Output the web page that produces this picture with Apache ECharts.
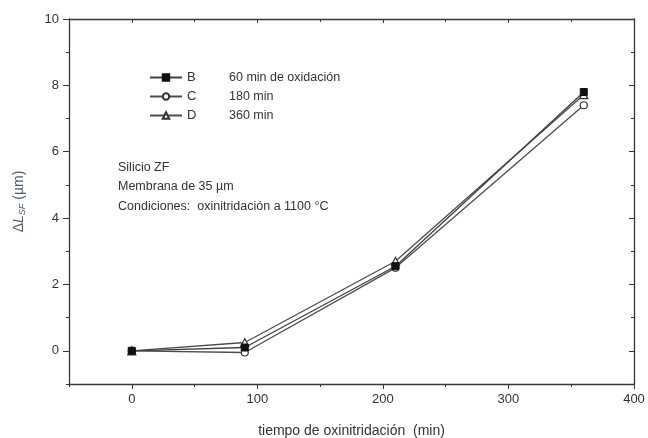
<!DOCTYPE html>
<html>
<head>
<meta charset="utf-8">
<script src="https://cdn.jsdelivr.net/npm/echarts@6/dist/echarts.min.js"></script>
<style>
  html, body { margin: 0; padding: 0; background: #fff; }
  #chart { width: 648px; height: 438px; }
</style>
</head>
<body>
<div id="chart"></div>
<script>
// tiempo de oxinitridación (min)
const tiempo = [0, 90, 210, 360];

// ΔL_SF (µm) per oxidation time
const serieB = [0.0, 0.1, 2.55, 7.8];
const serieC = [0.0, -0.05, 2.5, 7.4];
const serieD = [0.0, 0.25, 2.7, 7.72];

const seriesNames = ["B", "C", "D"];
const seriesDesc = {
    B: "60 min de oxidación",
    C: "180 min",
    D: "360 min"
};

const xMajor = [0, 100, 200, 300, 400];
const yMajor = [0, 2, 4, 6, 8, 10];

const notes = [
    "Silicio ZF",
    "Membrana de 35 µm",
    "Condiciones:  oxinitridación a 1100 °C"
];

const axisColor = "#2f3d2f";
const lineColor = "#4a4f4a";
const textColor = "#333";
const font = "Liberation Sans, Arial, sans-serif";

const chart = echarts.init(document.getElementById("chart"));

const pairs = (ys) => tiempo.map((t, i) => [t, ys[i]]);

const baseX = {
    type: "value",
    min: -50,
    max: 400,
    interval: 50,
    splitLine: { show: false },
    axisLine: { onZero: false, lineStyle: { color: axisColor, width: 1.3 } }
};
const baseY = {
    type: "value",
    min: -1,
    max: 10,
    interval: 1,
    splitLine: { show: false },
    axisLine: { onZero: false, lineStyle: { color: axisColor, width: 1.3 } }
};
const hiddenLine = { show: false, onZero: false };

chart.setOption({
    backgroundColor: "#fff",
    animation: false,
    textStyle: { fontFamily: font },
    grid: { left: 69, right: 14, top: 19, bottom: 54, outerBoundsMode: "none" },

    legend: {
        orient: "vertical",
        left: 144,
        top: 66,
        itemWidth: 32,
        itemHeight: 8,
        itemGap: 6,
        data: seriesNames,
        formatter: (name) => `{a|${name}}{b|${seriesDesc[name]}}`,
        textStyle: {
            color: textColor,
            fontFamily: font,
            rich: {
                a: { width: 42, fontSize: 13, color: textColor, fontFamily: font },
                b: { fontSize: 12.5, color: textColor, fontFamily: font }
            }
        }
    },

    graphic: notes.map((t, i) => ({
        type: "text",
        left: 118,
        top: 161 + i * 19.5,
        style: { text: t, fill: textColor, fontSize: 12.5, fontFamily: font }
    })),

    xAxis: [
        {
            ...baseX,
            position: "bottom",
            name: "tiempo de oxinitridación  (min)",
            nameLocation: "middle",
            nameGap: 40,
            nameTextStyle: { color: textColor, fontSize: 14, fontFamily: font },
            axisTick: { show: true, length: 5, customValues: xMajor, lineStyle: { color: axisColor } },
            axisLabel: { customValues: xMajor, color: textColor, fontSize: 13, margin: 9, fontFamily: font }
        },
        {
            ...baseX,
            position: "bottom",
            axisLine: hiddenLine,
            axisTick: { show: true, length: 3, lineStyle: { color: axisColor } },
            axisLabel: { show: false }
        },
        {
            ...baseX,
            position: "top",
            axisTick: { show: true, inside: true, length: 4, customValues: xMajor, lineStyle: { color: axisColor } },
            axisLabel: { show: false }
        },
        {
            ...baseX,
            position: "top",
            axisLine: hiddenLine,
            axisTick: { show: true, inside: true, length: 3, lineStyle: { color: axisColor } },
            axisLabel: { show: false }
        }
    ],

    yAxis: [
        {
            ...baseY,
            position: "left",
            name: "{n|Δ}{i|L}{s|SF}{n| (µm)}",
            nameLocation: "middle",
            nameGap: 42,
            nameRotate: 90,
            nameTextStyle: {
                color: "#4d5a6e",
                fontFamily: font,
                rich: {
                    n: { fontSize: 14, color: "#4d5a6e", fontFamily: font },
                    i: { fontSize: 14, fontStyle: "italic", color: "#4d5a6e", fontFamily: font },
                    s: { fontSize: 9, fontStyle: "italic", color: "#4d5a6e", fontFamily: font, padding: [6, 0, 0, 0] }
                }
            },
            axisTick: { show: true, length: 6, customValues: yMajor, lineStyle: { color: axisColor } },
            axisLabel: { customValues: yMajor, color: textColor, fontSize: 13, margin: 10, fontFamily: font }
        },
        {
            ...baseY,
            position: "left",
            axisLine: hiddenLine,
            axisTick: { show: true, length: 3, lineStyle: { color: axisColor } },
            axisLabel: { show: false }
        },
        {
            ...baseY,
            position: "right",
            axisTick: { show: true, inside: true, length: 5, customValues: yMajor, lineStyle: { color: axisColor } },
            axisLabel: { show: false }
        },
        {
            ...baseY,
            position: "right",
            axisLine: hiddenLine,
            axisTick: { show: true, inside: true, length: 3, lineStyle: { color: axisColor } },
            axisLabel: { show: false }
        }
    ],

    series: [
        {
            name: "C",
            type: "line",
            data: pairs(serieC),
            symbol: "circle",
            symbolSize: 7,
            z: 2,
            lineStyle: { color: lineColor, width: 1.3 },
            itemStyle: { color: "#fff", borderColor: "#333", borderWidth: 1.2 }
        },
        {
            name: "D",
            type: "line",
            data: pairs(serieD),
            symbol: "triangle",
            symbolSize: 8,
            z: 3,
            lineStyle: { color: lineColor, width: 1.3 },
            itemStyle: { color: "#fff", borderColor: "#333", borderWidth: 1.2 }
        },
        {
            name: "B",
            type: "line",
            data: pairs(serieB),
            symbol: "rect",
            symbolSize: 7,
            z: 4,
            lineStyle: { color: "#3c453c", width: 1.3 },
            itemStyle: { color: "#111", borderColor: "#111", borderWidth: 1 }
        }
    ]
});
</script>
</body>
</html>
